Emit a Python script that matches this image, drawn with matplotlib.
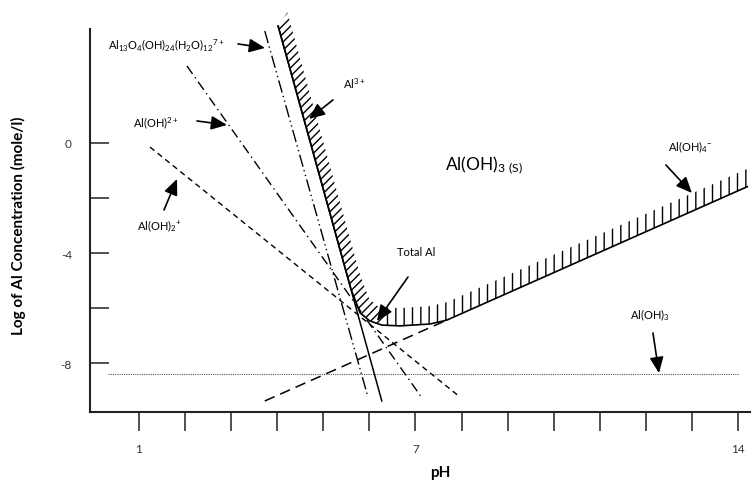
import matplotlib.pyplot as plt
import numpy as np

plt.rcParams['font.family'] = ['Lato', 'DejaVu Sans']
plt.rcParams['mathtext.default'] = 'regular'
plt.rcParams['hatch.linewidth'] = 1.0

# lines: pH and log of Al concentration
ph_aloh2 = [1.24, 7.97]
c_aloh2 = [-0.15, -9.24]
ph_aloh = [2.04, 7.16]
c_aloh = [2.80, -9.31]
ph_al13 = [3.73, 5.97]
c_al13 = [4.07, -9.24]
ph_al3 = [4.02, 6.27]
c_al3 = [4.25, -9.38]
ph_aloh4 = [3.73, 7.68]
c_aloh4 = [-9.38, -6.44]
ph_aloh3 = [0.33, 14.0]
c_aloh3 = [-8.4, -8.4]
ph_total = [4.02, 5.60, 5.80, 6.01, 6.27, 6.66, 7.32, 7.68, 14.2]
c_total = [4.25, -5.31, -6.18, -6.47, -6.62, -6.65, -6.58, -6.44, -1.59]

xticks = list(range(1, 15))
xticklabels = ['1', '', '', '', '', '', '7', '', '', '', '', '', '', '14']
yticks = [0, -2, -4, -6, -8]
yticklabels = ['0', '', '-4', '', '-8']

fig = plt.figure(figsize=(7.54, 4.85), dpi=100)
ax = fig.add_axes([90/754, (485-413)/485, 660/754, 403/485])
ax.set_xlim(-0.063, 14.26)
ax.set_ylim(-9.78, 4.87)

for s in ['top', 'right']:
    ax.spines[s].set_visible(False)
for s in ['left', 'bottom']:
    ax.spines[s].set_linewidth(1.5)
    ax.spines[s].set_color('#222222')
ax.spines['left'].set_bounds(-9.78, 4.15)

ax.set_xticks(xticks)
ax.set_xticklabels(xticklabels)
ax.set_yticks(yticks)
ax.set_yticklabels(yticklabels)
ax.tick_params(axis='x', direction='out', length=14, width=1.2, pad=8,
               labelsize=8.5, labelcolor='#333333', color='#333333')
ax.tick_params(axis='y', direction='in', length=14, width=1.2, pad=13,
               labelsize=8.5, labelcolor='#333333', color='#333333')

k = 'black'
ax.plot(ph_aloh2, c_aloh2, color=k, lw=1.0, dashes=(4, 3))
ax.plot(ph_aloh, c_aloh, color=k, lw=1.0, dashes=(7, 3, 1, 3))
ax.plot(ph_al13, c_al13, color=k, lw=1.0, dashes=(9, 2.5, 1, 2.5, 1, 2.5))
ax.plot(ph_al3, c_al3, color=k, lw=1.1)
ax.plot(ph_aloh4, c_aloh4, color=k, lw=1.1, dashes=(7, 4))
ax.plot(ph_aloh3, c_aloh3, color='#555555', lw=0.8, dashes=(1, 1))
ax.plot(ph_total, c_total, color=k, lw=1.2)

# hatched band above the solubility curve
pt = np.array(ph_total)
ct = np.array(c_total)
n = 5
ax.fill(np.r_[pt[:n], (pt[:n] + 0.2)[::-1]], np.r_[ct[:n], (ct[:n] + 0.5)[::-1]],
        facecolor='none', edgecolor=k, lw=0, hatch='////')
ax.fill(np.r_[pt[n-1:], pt[n-1:][::-1]], np.r_[ct[n-1:], (ct[n-1:] + 0.65)[::-1]],
        facecolor='none', edgecolor=k, lw=0, hatch='||')

fs = 8
ax.text(1.586, 3.6, 'Al$_{13}$O$_4$(OH)$_{24}$(H$_2$O)$_{12}$$^{7+}$', fontsize=fs,
        ha='center', va='center')
ax.text(1.369, 0.764, 'Al(OH)$^{2+}$', fontsize=fs, ha='center', va='center')
ax.text(1.434, -2.98, 'Al(OH)$_2$$^{+}$', fontsize=fs, ha='center', va='center')
ax.text(5.666, 2.18, 'Al$^{3+}$', fontsize=fs, ha='center', va='center')
ax.text(8.487, -0.8, 'Al(OH)$_{3\\ (S)}$', fontsize=12.5, ha='center', va='center')
ax.text(7.01, -3.96, 'Total Al', fontsize=fs, ha='center', va='center')
ax.text(12.957, -0.109, 'Al(OH)$_4$$^{-}$', fontsize=fs, ha='center', va='center')
ax.text(12.09, -6.218, 'Al(OH)$_3$', fontsize=fs, ha='center', va='center')

arrows = [
    ((3.148, 3.6), (3.734, 3.455)),
    ((2.259, 0.8), (2.910, 0.655)),
    ((1.543, -2.436), (1.825, -1.309)),
    ((5.21, 1.564), (4.689, 0.873)),
    ((6.838, -4.873), (6.165, -6.473)),
    ((12.435, -0.8), (12.999, -1.818)),
    ((12.154, -6.909), (12.285, -8.364)),
]
for tail, tip in arrows:
    ax.annotate('', xy=tip, xytext=tail,
                arrowprops=dict(arrowstyle='-|>,head_length=0.8,head_width=0.35',
                                color=k, lw=1.2, mutation_scale=12,
                                shrinkA=0, shrinkB=0))

fig.text(18/754, 1 - 226/485, 'Log of Al Concentration (mole/l)', rotation=90,
         fontsize=11, fontweight='bold', ha='center', va='center')
fig.text(440/754, 1 - 473/485, 'pH', fontsize=11, fontweight='bold',
         ha='center', va='center')

fig.savefig('out.png', dpi=100)
